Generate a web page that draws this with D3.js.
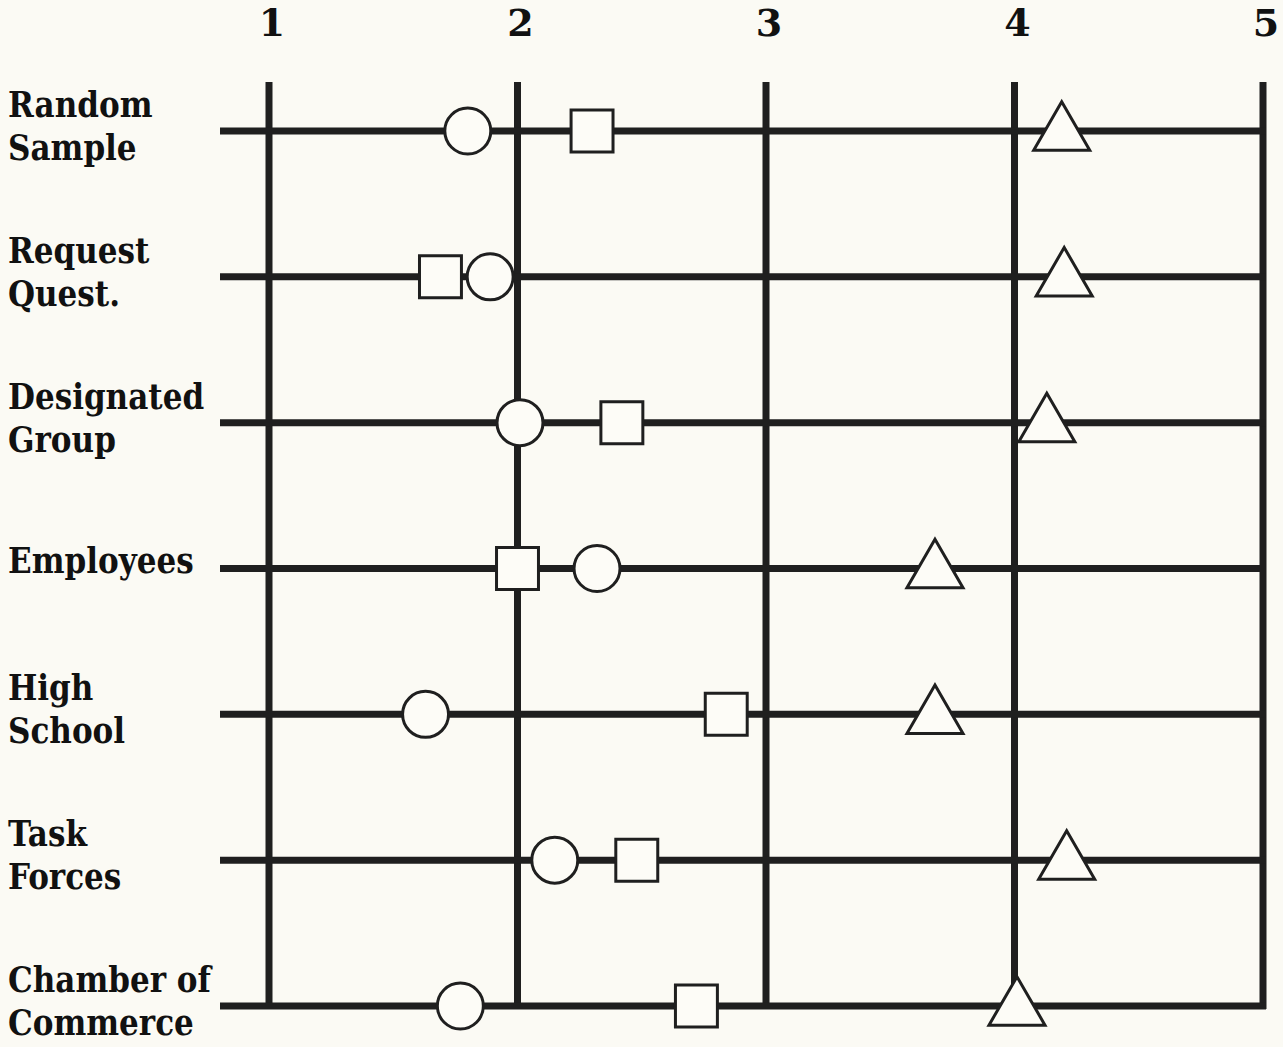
<!DOCTYPE html>
<html>
<head>
<meta charset="utf-8">
<script src="https://cdn.jsdelivr.net/npm/d3@7"></script>
<style>
  html, body { margin: 0; padding: 0; background: #fbfaf4; }
  svg { display: block; }
</style>
</head>
<body>
<div id="chart"></div>
<script>
// groups, top to bottom (label lines)
var groups = [
  ["Random", "Sample"],
  ["Request", "Quest."],
  ["Designated", "Group"],
  ["Employees"],
  ["High", "School"],
  ["Task", "Forces"],
  ["Chamber of", "Commerce"]
];
var ticks = [1, 2, 3, 4, 5];

// three series, one value per group
var circleVals   = [1.80, 1.89, 2.01, 2.32, 1.63, 2.15, 1.77];
var squareVals   = [2.30, 1.69, 2.42, 2.00, 2.84, 2.48, 2.72];
var triangleVals = [4.19, 4.20, 4.13, 3.68, 3.68, 4.21, 4.01];

var width = 1283, height = 1047;
var ink = "#1f1f1f";

var svg = d3.select("#chart").append("svg")
    .attr("width", width)
    .attr("height", height);

var x = d3.scaleLinear().domain([1, 5]).range([269, 1263]);
var y = d3.scalePoint().domain(d3.range(groups.length)).range([131, 1006]);

var lineTop = 82, lineLeft = 220;
var yBottom = y(groups.length - 1);

// tick labels along the top
svg.append("g").selectAll("text")
    .data(ticks)
    .enter().append("text")
    .attr("x", function(d) { return x(d) + 3; })
    .attr("y", 36)
    .attr("text-anchor", "middle")
    .style("font-family", "'DejaVu Serif', serif")
    .style("font-weight", "bold")
    .style("font-size", "38px")
    .style("fill", "#111")
    .text(function(d) { return d; });

// vertical grid lines
svg.append("g").selectAll("line")
    .data(ticks)
    .enter().append("line")
    .attr("x1", function(d) { return x(d); })
    .attr("x2", function(d) { return x(d); })
    .attr("y1", lineTop)
    .attr("y2", yBottom + 3)
    .style("stroke", ink)
    .style("stroke-width", 7);

// horizontal row lines
svg.append("g").selectAll("line")
    .data(groups)
    .enter().append("line")
    .attr("x1", lineLeft)
    .attr("x2", x(5) + 3)
    .attr("y1", function(d, i) { return y(i); })
    .attr("y2", function(d, i) { return y(i); })
    .style("stroke", ink)
    .style("stroke-width", 7);

// row labels
var labels = svg.append("g").selectAll("text")
    .data(groups)
    .enter().append("text")
    .attr("x", 8)
    .attr("y", function(d, i) {
        return d.length == 1 ? y(i) + 4 : y(i) - 14;
    })
    .style("font-family", "'DejaVu Serif Condensed', 'DejaVu Serif', serif")
    .style("font-weight", "bold")
    .style("font-size", "34.5px")
    .style("fill", "#111");

labels.selectAll("tspan")
    .data(function(d) { return d; })
    .enter().append("tspan")
    .attr("x", 8)
    .attr("dy", function(d, i) { return i == 0 ? 0 : 43; })
    .text(function(d) { return d; });

// markers
function drawMarkers(vals, type, size, dy) {
    svg.append("g").selectAll("path")
        .data(vals)
        .enter().append("path")
        .attr("d", d3.symbol().type(type).size(size))
        .attr("transform", function(d, i) {
            return "translate(" + x(d) + "," + (y(i) + dy) + ")";
        })
        .style("fill", "#fdfcf7")
        .style("stroke", ink)
        .style("stroke-width", 3);
}

drawMarkers(circleVals, d3.symbolCircle, 1660, 0);
drawMarkers(squareVals, d3.symbolSquare, 1760, 0);
drawMarkers(triangleVals, d3.symbolTriangle, 1360, 3);
</script>
</body>
</html>
